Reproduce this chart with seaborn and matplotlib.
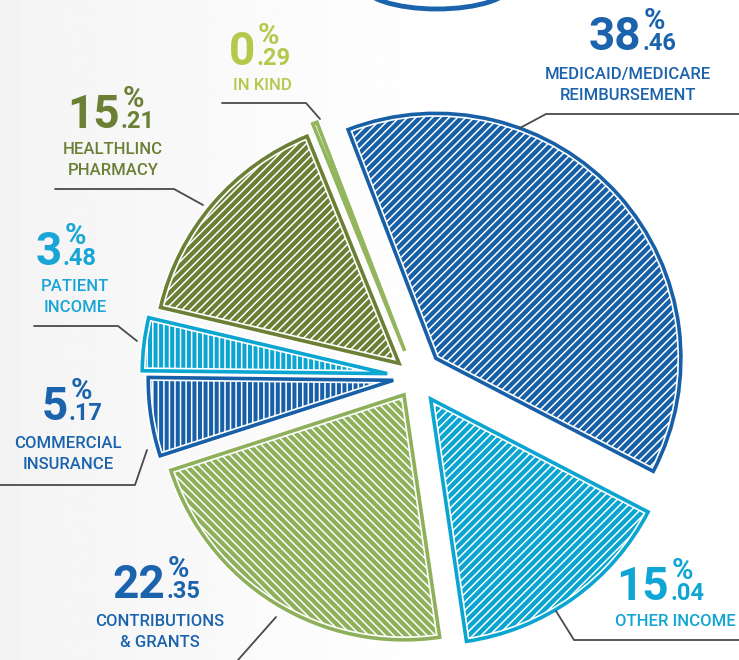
import numpy as np
import matplotlib
matplotlib.use("Agg")
import matplotlib.pyplot as plt
from matplotlib.patches import Ellipse
import seaborn as sns

# revenue shares, clockwise from the top
categories = ["MEDICAID/MEDICARE\nREIMBURSEMENT", "OTHER INCOME", "CONTRIBUTIONS\n& GRANTS",
              "COMMERCIAL\nINSURANCE", "PATIENT\nINCOME", "HEALTHLINC\nPHARMACY", "IN KIND"]
shares = [38.46, 15.04, 22.35, 5.17, 3.48, 15.21, 0.29]

fill_colors = ["#175fa6", "#0aa5d1", "#8eb05b", "#175fa6", "#0aa5d1", "#6b7f35", "#93b55d"]
label_colors = ["#1b63ad", "#10a6d3", "#1b63ad", "#1b63ad", "#19a6d6", "#6b7f35", "#b3c94c"]
hatches = ["////", "////", "\\\\\\\\", "|||", "|||", "////", ""]

W, H = 739, 660
R = 245
cx, cy = 415, H - 377
explode = [28, 27, 21, 22, 28, 21, 28]  # gap in pixels

# label anchors: right edge of the integer part, baseline (pixels from top)
num_anchor = [(641, 50), (669, 600), (165, 598), (68, 420), (62, 265), (120, 128), (255, 65)]
# centre of the category name block
name_anchor = [(628, 85), (675, 622), (160, 632), (68, 454), (75, 297), (113, 160), (262, 85)]

leaders = [
    [(520, 128), (546, 114), (739, 114)],
    [(556, 611), (574, 640), (739, 640)],
    [(238, 660), (276, 617)],
    [(0, 485), (135, 485), (147, 450)],
    [(34, 326), (118, 326), (137, 341)],
    [(55, 189), (174, 189), (203, 205)],
    [(222, 103), (306, 103), (320, 119)],
]

sns.set_theme(style="white")
plt.rcParams["hatch.linewidth"] = 1.1

fig = plt.figure(figsize=(W / 100, H / 100), dpi=100)
ax = fig.add_axes([0, 0, 1, 1])

# faint grey wash on the left
grad = np.linspace(0.955, 1.0, 256)[None, :] + np.zeros((64, 1))
ax.imshow(grad, cmap="gray", vmin=0, vmax=1, extent=(0, W * 0.6, 0, H), aspect="auto", zorder=0)

# decorative arc at the top
ax.add_patch(Ellipse((437, H + 16), 150, 50, facecolor="white", edgecolor="#1b63ad", lw=3.5, zorder=1))

fill, _ = ax.pie(shares, radius=R, center=(cx, cy), explode=explode, startangle=111,
                 counterclock=False, colors=fill_colors, hatch=hatches,
                 wedgeprops=dict(edgecolor="white", linewidth=5))
for w in fill:
    w.set_zorder(2)

outline, _ = ax.pie(shares, radius=R, center=(cx, cy), explode=explode, startangle=111,
                    counterclock=False, colors=fill_colors,
                    wedgeprops=dict(linewidth=2.6))
for w in outline:
    w.set_edgecolor(w.get_facecolor())
    w.set_facecolor("none")
    w.set_joinstyle("miter")
    w.set_zorder(3)

for share, name, col, (nx, ny), (tx, ty), pts in zip(shares, categories, label_colors,
                                                     num_anchor, name_anchor, leaders):
    whole, dec = f"{share:.2f}".split(".")
    ax.text(nx, H - ny, whole, ha="right", va="baseline", color=col,
            fontsize=33, fontweight="bold", family="Roboto", zorder=5)
    ax.text(nx + 1, H - ny, "." + dec, ha="left", va="baseline", color=col,
            fontsize=17, fontweight="bold", family="Roboto", zorder=5)
    ax.text(nx + 3, H - ny + 21, "%", ha="left", va="baseline", color=col,
            fontsize=21, fontweight="bold", family="Roboto", zorder=5)
    ax.text(tx, H - ty, name, ha="center", va="center", color=col, fontsize=12,
            fontweight="medium", family="Roboto", linespacing=1.45, zorder=5)
    xs, ys = zip(*pts)
    ax.plot(xs, [H - y for y in ys], color="#4a4a4a", lw=1.3, zorder=4)

ax.set_xlim(0, W)
ax.set_ylim(0, H)
ax.set_aspect("equal")
ax.axis("off")

fig.savefig("out.png", dpi=100)
